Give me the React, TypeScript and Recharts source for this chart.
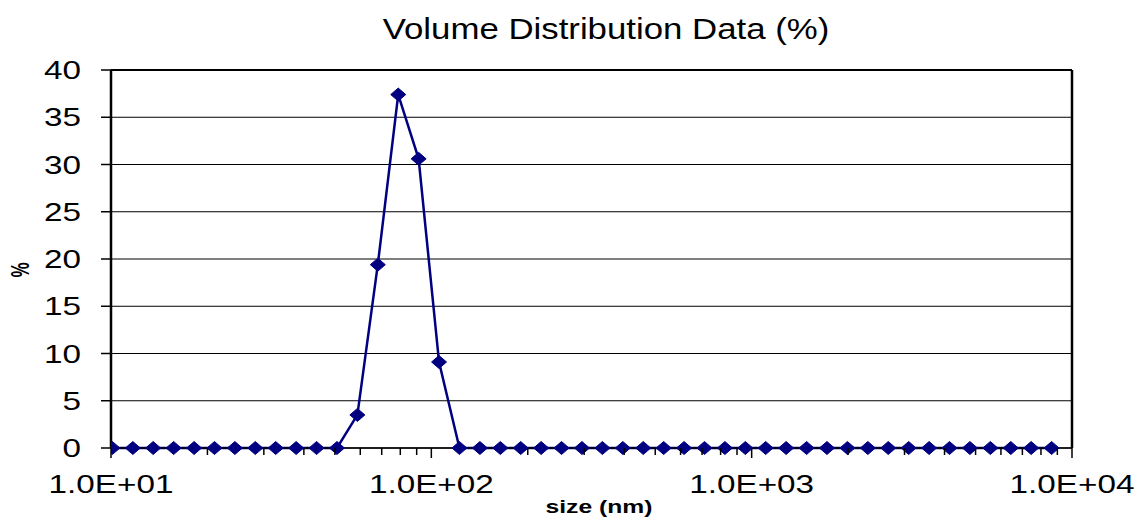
import React from 'react';
import { LineChart, Line, XAxis, YAxis, CartesianGrid, ReferenceLine } from 'recharts';

// size classes (nm) shown on the chart
const sizes = [
  10.1, 11.7, 13.54, 15.69, 18.17, 21.04, 24.36, 28.21, 32.67, 37.84, 43.82, 50.75,
  58.77, 68.06, 78.82, 91.28, 105.7, 122.4, 141.8, 164.2, 190.1, 220.2, 255.0, 295.3,
  342.0, 396.1, 458.7, 531.2, 615.1, 712.4, 825.0, 955.4, 1106, 1281, 1484, 1718,
  1990, 2305, 2669, 3091, 3580, 4145, 4801, 5560, 6439, 7456, 8635,
];

// volume % for each size class
const volume = [
  0, 0, 0, 0, 0, 0, 0, 0, 0, 0, 0, 0,
  3.5, 19.4, 37.4, 30.6, 9.1, 0, 0, 0, 0, 0, 0, 0,
  0, 0, 0, 0, 0, 0, 0, 0, 0, 0, 0, 0,
  0, 0, 0, 0, 0, 0, 0, 0, 0, 0, 0,
];

const majorTicks = [10, 100, 1000, 10000];
const majorLabels = ['1.0E+01', '1.0E+02', '1.0E+03', '1.0E+04'];
const minorTicks = [2, 3, 4, 5, 6, 7, 8, 9];
const yTicks = [0, 5, 10, 15, 20, 25, 30, 35, 40];

const xTicks: number[] = [];
majorTicks.forEach((m, i) => {
  xTicks.push(m);
  if (i < majorTicks.length - 1) minorTicks.forEach((k) => xTicks.push(m * k));
});

const data = sizes.map((s, i) => ({ size: s, pct: volume[i] }));

const FONT = '"Liberation Sans", Arial, sans-serif';
const STRETCH = 1.28;

const XTick = (props: any) => {
  const { x, y, payload } = props;
  const idx = majorTicks.indexOf(payload.value);
  const major = idx >= 0;
  return (
    <g>
      <line x1={x} x2={x} y1={y} y2={y + (major ? 10 : 7)} stroke="#000" strokeWidth={1.5} />
      {major && (
        <text
          transform={`translate(${x},${y + 45}) scale(${STRETCH},1)`}
          textAnchor="middle"
          fontSize={26}
          fontFamily={FONT}
          fill="#000"
        >
          {majorLabels[idx]}
        </text>
      )}
    </g>
  );
};

const YTick = (props: any) => {
  const { x, y, payload } = props;
  return (
    <text
      transform={`translate(${x},${y + 9}) scale(${STRETCH},1)`}
      textAnchor="end"
      fontSize={26}
      fontFamily={FONT}
      fill="#000"
    >
      {payload.value}
    </text>
  );
};

const Diamond = (props: any) => {
  const { cx, cy } = props;
  if (cx == null || cy == null) return null;
  return (
    <polygon
      points={`${cx - 7.5},${cy} ${cx},${cy - 6.5} ${cx + 7.5},${cy} ${cx},${cy + 6.5}`}
      fill="#000080"
      stroke="#000080"
    />
  );
};

export default function App() {
  return (
    <div style={{ position: 'absolute', left: 0, top: 0, width: 1139, height: 523, background: '#fff' }}>
      <LineChart
        width={1139}
        height={523}
        data={data}
        margin={{ top: 70, right: 67, left: 51, bottom: 45 }}
      >
        <CartesianGrid vertical={false} stroke="#000" strokeWidth={1} />
        <XAxis
          dataKey="size"
          type="number"
          scale="log"
          domain={[10, 10000]}
          ticks={xTicks}
          interval={0}
          tickSize={0}
          tickMargin={0}
          tick={<XTick />}
          axisLine={{ stroke: '#000', strokeWidth: 1.5 }}
          allowDataOverflow
        />
        <YAxis
          type="number"
          domain={[0, 40]}
          ticks={yTicks}
          interval={0}
          tickSize={10}
          tickMargin={20}
          tickLine={{ stroke: '#000', strokeWidth: 1.5 }}
          tick={<YTick />}
          axisLine={{ stroke: '#000', strokeWidth: 2.5 }}
        />
        <ReferenceLine y={40} stroke="#000" strokeWidth={2} />
        <ReferenceLine x={10000} stroke="#000" strokeWidth={2.5} />
        <Line
          dataKey="pct"
          stroke="#000080"
          strokeWidth={2.5}
          dot={<Diamond />}
          activeDot={false}
          isAnimationActive={false}
        />
      </LineChart>
      <svg
        width={1139}
        height={523}
        style={{ position: 'absolute', left: 0, top: 0, pointerEvents: 'none' }}
      >
        <text
          transform={`translate(606,39) scale(1.2,1)`}
          textAnchor="middle"
          fontSize={29}
          fontFamily={FONT}
          fill="#000"
        >
          Volume Distribution Data (%)
        </text>
        <text
          transform={`translate(599,513) scale(1.3,1)`}
          textAnchor="middle"
          fontSize={19}
          fontWeight="bold"
          fontFamily={FONT}
          fill="#000"
        >
          size (nm)
        </text>
        <text
          transform={`translate(29,270) scale(1.5,1) rotate(-90)`}
          textAnchor="middle"
          fontSize={17}
          fontWeight="bold"
          fontFamily={FONT}
          fill="#000"
        >
          %
        </text>
      </svg>
    </div>
  );
}
